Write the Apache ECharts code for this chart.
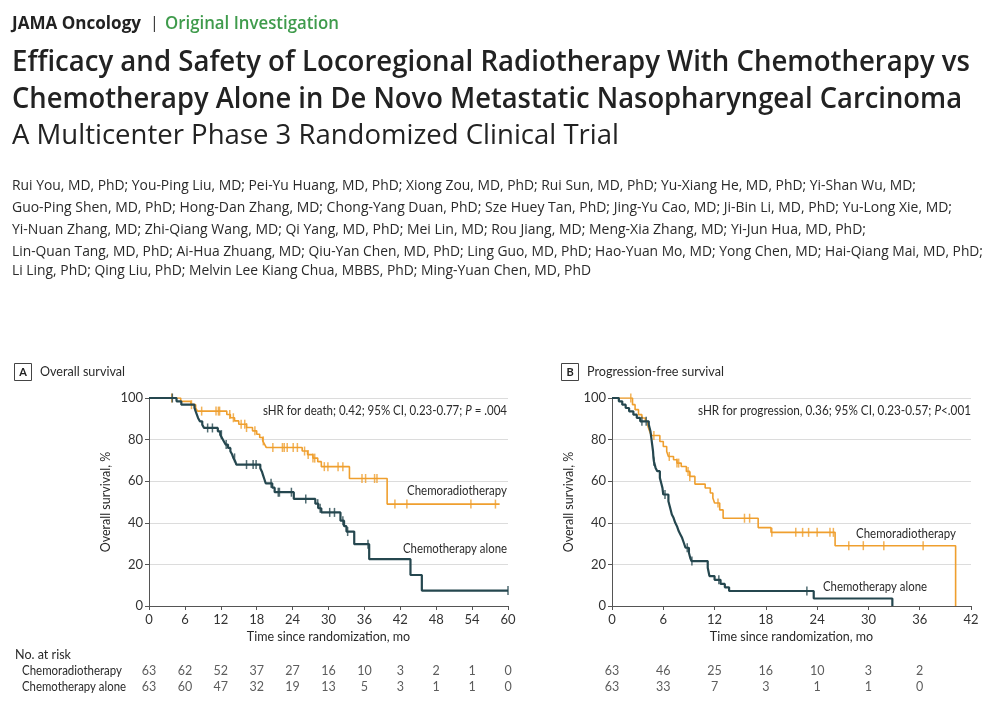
<!DOCTYPE html>
<html><head><meta charset="utf-8">
<script src="https://cdn.jsdelivr.net/npm/echarts@6/dist/echarts.min.js"></script>
<style>html,body{margin:0;padding:0;background:#fff}#c{width:1008px;height:704px}</style>
</head><body><div id="c"></div>
<script>
// ---------------- DATA ----------------
const osTicks = [0, 6, 12, 18, 24, 30, 36, 42, 48, 54, 60];
const pfsTicks = [0, 6, 12, 18, 24, 30, 36, 42];
const yTicks = [0, 20, 40, 60, 80, 100];
const groupNames = ['Chemoradiotherapy', 'Chemotherapy alone'];

// Overall survival, chemoradiotherapy: [month, survival %] (value holds from month onward)
const osCrtSteps = [[0,100],[5.3,98.4],[7.0,96.8],[7.8,95.2],[8.1,93.7],[13.0,92.1],[13.6,90.5],[14.3,89.0],[15.0,87.4],[16.3,85.8],[17.3,84.2],[18.0,82.6],[18.5,81.0],[19.0,79.4],[19.3,77.8],[19.6,76.2],[25.6,74.5],[26.5,72.8],[27.4,71.1],[28.2,69.4],[28.8,67.0],[33.5,61.3],[39.8,49.0],[58.6,49.0]];
const osCrtCensored = [3.8,7.1,8.8,11.2,11.6,11.8,13.5,14.1,15.4,16.0,16.3,17.7,19.1,20.7,22.3,22.6,23.1,24.1,24.8,26.0,26.6,27.4,27.7,29.3,29.9,31.6,32.4,35.6,36.2,37.7,38.1,41.1,43.1,53.8,57.9];
// Overall survival, chemotherapy alone
const osCtSteps = [[0,100],[4.6,98.4],[5.4,96.8],[7.6,95.2],[7.8,93.6],[8.0,92.0],[8.2,90.4],[8.5,88.8],[8.9,87.2],[9.2,85.6],[11.5,84.0],[11.9,82.4],[12.2,80.8],[12.5,79.2],[12.8,77.6],[13.2,76.0],[13.6,74.4],[13.9,72.8],[14.1,71.2],[14.4,69.6],[14.6,68.0],[18.6,66.2],[18.9,64.4],[19.1,62.6],[19.3,60.8],[19.5,59.0],[20.6,56.9],[21.0,54.7],[24.2,51.5],[27.8,49.2],[28.3,47.0],[28.8,45.0],[32.0,41.0],[32.6,38.4],[33.0,35.8],[34.3,29.7],[36.8,22.5],[43.7,14.9],[45.6,7.4],[60,7.4]];
const osCtCensored = [3.9,9.8,10.6,12.1,12.9,14.3,16.3,17.4,17.9,20.4,21.6,21.8,23.8,26.2,28.2,28.6,30.2,31.0,32.4,33.2,36.6,60];

// Progression-free survival, chemoradiotherapy
const pfsCrtSteps = [[0,100],[2.4,96.8],[2.7,94.4],[3.1,92.0],[3.5,90.4],[3.9,88.8],[4.2,86.4],[4.4,84.0],[4.6,82.0],[5.6,79.1],[6.0,76.7],[6.4,74.3],[6.6,71.9],[7.2,70.3],[7.6,68.7],[8.1,67.1],[8.7,64.7],[9.1,62.3],[9.7,58.6],[10.9,56.7],[11.5,54.3],[11.8,51.9],[12.0,49.5],[12.6,46.2],[13.0,42.2],[17.1,37.7],[18.6,35.4],[26.1,29.0],[40.2,0]];
const pfsCrtCensored = [2.2,4.9,6.7,7.6,7.8,8.9,9.1,12.4,15.5,16.1,18.7,21.5,22.3,23.0,24.0,25.5,25.9,27.7,29.4,31.8,36.4];
// Progression-free survival, chemotherapy alone
const pfsCtSteps = [[0,100],[0.8,98.4],[1.2,96.8],[1.6,95.2],[2.0,93.6],[2.5,92.0],[2.9,90.4],[3.3,88.8],[4.3,87.2],[4.5,84.0],[4.6,80.8],[4.7,77.6],[4.8,74.4],[4.85,71.2],[4.9,69.6],[5.1,66.4],[5.3,64.8],[5.6,61.6],[5.8,58.4],[5.9,56.8],[6.0,53.6],[6.6,50.4],[6.8,47.2],[7.0,44.0],[7.2,42.4],[7.4,40.0],[7.6,38.4],[7.8,36.0],[8.0,34.4],[8.2,32.8],[8.4,30.4],[8.6,28.0],[9.0,25.6],[9.15,23.2],[9.3,21.6],[11.2,18.4],[11.4,14.4],[12.0,12.6],[12.7,10.6],[13.2,9.0],[13.7,7.2],[23.6,3.6],[32.8,0]];
const pfsCtCensored = [3.5,4.0,4.9,6.2,8.8,9.35,12.5,22.8];

// Number at risk
const osRiskCrt = [63,62,52,37,27,16,10,3,2,1,0];
const osRiskCt  = [63,60,47,32,19,13,5,3,1,1,0];
const pfsRiskCrt = [63,46,25,16,10,3,2];
const pfsRiskCt  = [63,33,7,3,1,1,0];

// Texts
const headerJournal = 'JAMA Oncology';
const headerSection = 'Original Investigation';
const titleLines = ['Efficacy and Safety of Locoregional Radiotherapy With Chemotherapy vs','Chemotherapy Alone in De Novo Metastatic Nasopharyngeal Carcinoma'];
const subtitle = 'A Multicenter Phase 3 Randomized Clinical Trial';
const authorLines = [
 'Rui You, MD, PhD; You-Ping Liu, MD; Pei-Yu Huang, MD, PhD; Xiong Zou, MD, PhD; Rui Sun, MD, PhD; Yu-Xiang He, MD, PhD; Yi-Shan Wu, MD;',
 'Guo-Ping Shen, MD, PhD; Hong-Dan Zhang, MD; Chong-Yang Duan, PhD; Sze Huey Tan, PhD; Jing-Yu Cao, MD; Ji-Bin Li, MD, PhD; Yu-Long Xie, MD;',
 'Yi-Nuan Zhang, MD; Zhi-Qiang Wang, MD; Qi Yang, MD, PhD; Mei Lin, MD; Rou Jiang, MD; Meng-Xia Zhang, MD; Yi-Jun Hua, MD, PhD;',
 'Lin-Quan Tang, MD, PhD; Ai-Hua Zhuang, MD; Qiu-Yan Chen, MD, PhD; Ling Guo, MD, PhD; Hao-Yuan Mo, MD; Yong Chen, MD; Hai-Qiang Mai, MD, PhD;',
 'Li Ling, PhD; Qing Liu, PhD; Melvin Lee Kiang Chua, MBBS, PhD; Ming-Yuan Chen, MD, PhD'
];

// ---------------- LAYOUT / STYLE ----------------
const ORANGE = '#EF9F2E';
const DARK = '#25474F';
const TXT = '#2a2a2a';
const FF = 'Lato';

const mctx = document.createElement('canvas').getContext('2d');
function measure(str, font){ mctx.font = font; return mctx.measureText(str).width; }
function fitText(x, y, str, font, fill, width, align){
  const s = width ? width / measure(str, font) : 1;
  return {type:'text', x:x, y:y, scaleX:s, silent:true,
    style:{text:str, font:font, fill:fill, textAlign:align||'left', textVerticalAlign:'middle'}};
}
function richFit(x, y, parts, size, fill, width){
  let total = 0, txt = '';
  const rich = {n:{fontFamily:FF, fontSize:size, fill:fill}, i:{fontFamily:FF, fontSize:size, fontStyle:'italic', fill:fill}};
  parts.forEach(p=>{
    total += measure(p[0], (p[1]?'italic ':'') + size + 'px ' + FF);
    txt += '{' + (p[1]?'i':'n') + '|' + p[0] + '}';
  });
  return {type:'text', x:x, y:y, scaleX: width/total, silent:true,
    style:{text:txt, rich:rich, fill:fill, font: size+'px '+FF, textAlign:'right', textVerticalAlign:'middle'}};
}
function valAt(steps, t){ let v = steps[0][1]; for (const p of steps){ if (p[0] <= t) v = p[1]; else break; } return v; }

const graphics = [
  fitText(12, 23.5, headerJournal, 'bold 18px "Open Sans"', '#222', 129),
  {type:'text', x:150, y:23, silent:true, style:{text:'|', font:'16px "Open Sans"', fill:'#333', textVerticalAlign:'middle'}},
  fitText(165, 23.5, headerSection, '600 18px "Open Sans"', '#3f9b4c', 174),
  fitText(12, 63.5, titleLines[0], '600 28px "Open Sans"', '#222', 958),
  fitText(12, 100.5, titleLines[1], '600 28px "Open Sans"', '#222', 950),
  fitText(12, 136.5, subtitle, '28px "Open Sans"', '#222', 607),
  fitText(12, 186, authorLines[0], '15px "Open Sans"', '#2a2a2a', 904),
  fitText(12, 208, authorLines[1], '15px "Open Sans"', '#2a2a2a', 940),
  fitText(12, 230, authorLines[2], '15px "Open Sans"', '#2a2a2a', 854),
  fitText(12, 252, authorLines[3], '15px "Open Sans"', '#2a2a2a', 971),
  fitText(12, 271, authorLines[4], '15px "Open Sans"', '#2a2a2a', 579),
  // panel labels
  {type:'rect', shape:{x:14.5, y:363.5, width:17, height:17}, style:{fill:'#fff', stroke:'#444', lineWidth:1}, silent:true},
  {type:'text', x:23, y:372.5, silent:true, style:{text:'A', font:'bold 11px '+FF, fill:'#222', textAlign:'center', textVerticalAlign:'middle'}},
  fitText(40, 372, 'Overall survival', '13.5px '+FF, TXT, 85),
  {type:'rect', shape:{x:561.5, y:363.5, width:17, height:17}, style:{fill:'#fff', stroke:'#444', lineWidth:1}, silent:true},
  {type:'text', x:570, y:372.5, silent:true, style:{text:'B', font:'bold 11px '+FF, fill:'#222', textAlign:'center', textVerticalAlign:'middle'}},
  fitText(587, 372, 'Progression-free survival', '13.5px '+FF, TXT, 137),
  // annotations
  richFit(507, 411, [['sHR for death; 0.42; 95% CI, 0.23-0.77; ',false],['P',true],[' = .004',false]], 13, TXT, 244),
  fitText(507, 491, groupNames[0], '13px '+FF, TXT, 100, 'right'),
  fitText(507, 549, groupNames[1], '13px '+FF, TXT, 104, 'right'),
  richFit(971, 411, [['sHR for progression, 0.36; 95% CI, 0.23-0.57; ',false],['P',true],['<.001',false]], 13, TXT, 273),
  fitText(956, 534, groupNames[0], '13px '+FF, TXT, 100, 'right'),
  fitText(927, 587, groupNames[1], '13px '+FF, TXT, 104, 'right'),
  // risk table labels
  fitText(15, 655, 'No. at risk', '13.5px '+FF, TXT, 56),
  fitText(22, 671, groupNames[0], '12.5px '+FF, TXT, 100),
  fitText(22, 687, groupNames[1], '12.5px '+FF, TXT, 104)
];

function kmAxes(gi, max, name){
  return {
    x:{gridIndex:gi, type:'value', min:0, max:max, interval:6,
      axisLine:{show:true, onZero:false, lineStyle:{color:'#555', width:1}},
      axisTick:{show:true, length:4, lineStyle:{color:'#555'}},
      axisLabel:{show:true, margin:7, fontFamily:FF, fontSize:13, color:'#333'},
      splitLine:{show:false},
      name:name, nameLocation:'middle', nameGap:24, nameTextStyle:{fontFamily:FF, fontSize:12.5, color:TXT}},
    y:{gridIndex:gi, type:'value', min:0, max:100, interval:20,
      axisLine:{show:true, lineStyle:{color:'#555', width:1}},
      axisTick:{show:true, length:4, lineStyle:{color:'#555'}},
      axisLabel:{show:true, margin:6, fontFamily:FF, fontSize:13, color:'#333'},
      splitLine:{show:true, lineStyle:{color:'#dcdcdc', width:1}},
      name:'Overall survival, %', nameLocation:'middle', nameGap:37, nameTextStyle:{fontFamily:FF, fontSize:12.5, color:TXT}}
  };
}
const aAx = kmAxes(0, 60, 'Time since randomization, mo');
const bAx = kmAxes(1, 42, 'Time since randomization, mo');

function kmLine(xi, steps, color, width, z){
  return {type:'line', xAxisIndex:xi, yAxisIndex:xi, step:'end', data:steps, showSymbol:false, symbol:'none',
    lineStyle:{color:color, width:width}, silent:true, z:z};
}
function kmCens(xi, steps, cens, color, z){
  return {type:'scatter', xAxisIndex:xi, yAxisIndex:xi, data:cens.map(t=>[t, valAt(steps,t)]),
    symbol:'rect', symbolSize:[1.5,9], itemStyle:{color:color}, silent:true, z:z};
}
function riskSeries(xi, ticks, crt, ct){
  const d = [];
  crt.forEach((v,i)=>d.push([ticks[i], 1, v]));
  ct.forEach((v,i)=>d.push([ticks[i], 0, v]));
  return {type:'scatter', xAxisIndex:xi, yAxisIndex:xi, data:d, symbolSize:1, itemStyle:{color:'rgba(0,0,0,0)'},
    label:{show:true, position:'inside', formatter:p=>String(p.value[2]), fontFamily:FF, fontSize:12.5, color:'#333'},
    labelLayout:{hideOverlap:false}, silent:true};
}
const hiddenX = (gi,max)=>({gridIndex:gi, type:'value', min:0, max:max, show:false});
const hiddenY = gi=>({gridIndex:gi, type:'value', min:-0.5, max:1.5, show:false});

const option = {
  animation:false,
  backgroundColor:'#fff',
  grid:[
    {left:149, top:398, width:359, height:208},
    {left:612, top:398, width:359, height:208},
    {left:149, top:663, width:359, height:32},
    {left:612, top:663, width:359, height:32}
  ],
  xAxis:[aAx.x, bAx.x, hiddenX(2,60), hiddenX(3,42)],
  yAxis:[aAx.y, bAx.y, hiddenY(2), hiddenY(3)],
  graphic:graphics,
  series:[
    kmLine(0, osCrtSteps, ORANGE, 1.6, 2),
    kmCens(0, osCrtSteps, osCrtCensored, ORANGE, 3),
    kmLine(0, osCtSteps, DARK, 2.2, 4),
    kmCens(0, osCtSteps, osCtCensored, DARK, 5),
    kmLine(1, pfsCrtSteps, ORANGE, 1.6, 2),
    kmCens(1, pfsCrtSteps, pfsCrtCensored, ORANGE, 3),
    kmLine(1, pfsCtSteps, DARK, 2.2, 4),
    kmCens(1, pfsCtSteps, pfsCtCensored, DARK, 5),
    riskSeries(2, osTicks, osRiskCrt, osRiskCt),
    riskSeries(3, pfsTicks, pfsRiskCrt, pfsRiskCt)
  ]
};
const chart = echarts.init(document.getElementById('c'), null, {renderer:'canvas'});
chart.setOption(option);
</script>
</body></html>
